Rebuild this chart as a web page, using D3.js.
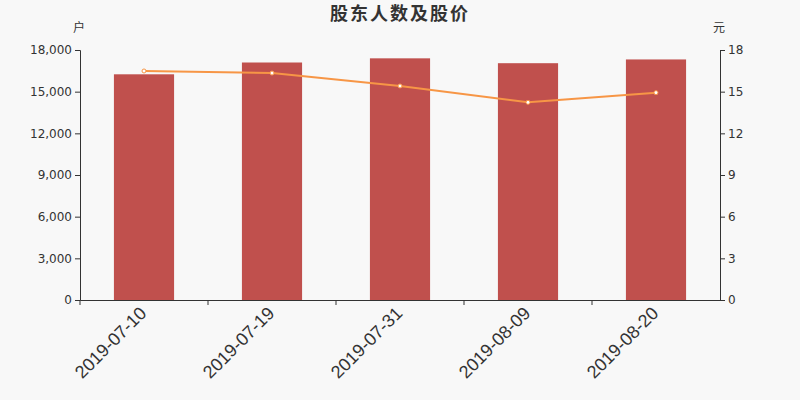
<!DOCTYPE html>
<html>
<head>
<meta charset="utf-8">
<script src="https://cdn.jsdelivr.net/npm/d3@7"></script>
<style>
  body { margin: 0; background: #f8f8f8; }
  svg { display: block; font-family: "DejaVu Sans", "Noto Sans CJK SC", sans-serif; }
</style>
</head>
<body>
<div id="chart"></div>
<script>
var dates = ["2019-07-10", "2019-07-19", "2019-07-31", "2019-08-09", "2019-08-20"];
var holders = [16250, 17100, 17400, 17050, 17320];
var prices = [16.49, 16.34, 15.41, 14.23, 14.93];
var leftTicks = [0, 3000, 6000, 9000, 12000, 15000, 18000];
var rightTicks = [0, 3, 6, 9, 12, 15, 18];

var width = 800, height = 400;
var margin = { top: 50, right: 80, bottom: 100, left: 80 };

var svg = d3.select("#chart").append("svg")
    .attr("width", width)
    .attr("height", height);

svg.append("rect").attr("width", width).attr("height", height).attr("fill", "#f8f8f8");

var x = d3.scaleBand()
    .domain(dates)
    .range([margin.left, width - margin.right])
    .paddingInner(0.53)
    .paddingOuter(0.265);

var xb = d3.scaleBand().domain(dates).range([margin.left, width - margin.right]);

var yL = d3.scaleLinear().domain([0, 18000]).range([height - margin.bottom, margin.top]);
var yR = d3.scaleLinear().domain([0, 18]).range([height - margin.bottom, margin.top]);

// bars
svg.selectAll("rect.bar")
    .data(holders)
    .enter()
    .append("rect")
    .attr("class", "bar")
    .attr("x", function (d, i) { return x(dates[i]); })
    .attr("y", function (d) { return yL(d); })
    .attr("width", x.bandwidth())
    .attr("height", function (d) { return yL(0) - yL(d); })
    .style("fill", "#c0504d");

// price line
var line = d3.line()
    .x(function (d, i) { return xb(dates[i]) + xb.bandwidth() / 2; })
    .y(function (d) { return yR(d); });

svg.append("path")
    .datum(prices)
    .attr("d", line)
    .attr("fill", "none")
    .attr("stroke", "#f79646")
    .attr("stroke-width", 2);

svg.selectAll("circle")
    .data(prices)
    .enter()
    .append("circle")
    .attr("cx", function (d, i) { return xb(dates[i]) + xb.bandwidth() / 2; })
    .attr("cy", function (d) { return yR(d); })
    .attr("r", 2)
    .style("fill", "#fff")
    .style("stroke", "#f79646")
    .style("stroke-width", 1);

// axes
var axisColor = "#333";

var gL = svg.append("g")
    .attr("transform", "translate(" + margin.left + ",0)")
    .call(d3.axisLeft(yL).tickValues(leftTicks).tickSize(5).tickFormat(d3.format(",")));

var gR = svg.append("g")
    .attr("transform", "translate(" + (width - margin.right) + ",0)")
    .call(d3.axisRight(yR).tickValues(rightTicks).tickSize(5));

var gX = svg.append("g")
    .attr("transform", "translate(0," + (height - margin.bottom) + ")")
    .call(d3.axisBottom(xb).tickSize(0).tickFormat(""));

// x ticks on band boundaries
gX.selectAll("line.bound")
    .data(dates)
    .enter()
    .append("line")
    .attr("class", "bound")
    .attr("x1", function (d) { return xb(d); })
    .attr("x2", function (d) { return xb(d); })
    .attr("y1", 0)
    .attr("y2", 5)
    .attr("stroke", axisColor);

gX.selectAll("text.lbl")
    .data(dates)
    .enter()
    .append("text")
    .attr("class", "lbl")
    .attr("transform", function (d) {
      return "translate(" + (xb(d) + xb.bandwidth() / 2 - 1) + ",10) rotate(-45)";
    })
    .attr("text-anchor", "end")
    .attr("dy", "0.35em")
    .attr("fill", axisColor)
    .style("font-size", "18px")
    .text(function (d) { return d; });

[gL, gR, gX].forEach(function (g) {
  g.selectAll(".domain").attr("stroke", axisColor);
  g.selectAll(".tick line").attr("stroke", axisColor);
  g.selectAll(".tick text").attr("fill", axisColor).style("font-size", "12px")
      .style("font-family", "DejaVu Sans, sans-serif");
});

// title and units
svg.append("text")
    .attr("x", width / 2)
    .attr("y", 20)
    .attr("text-anchor", "middle")
    .attr("fill", "#333")
    .style("font-family", "Noto Sans CJK SC, sans-serif")
    .style("font-size", "18px")
    .style("font-weight", "bold")
    .style("letter-spacing", "2px")
    .text("股东人数及股价");

svg.append("text")
    .attr("x", 79).attr("y", 32)
    .attr("text-anchor", "middle")
    .attr("fill", "#333")
    .style("font-family", "Noto Sans CJK SC, sans-serif")
    .style("font-size", "12px")
    .text("户");

svg.append("text")
    .attr("x", 719).attr("y", 32)
    .attr("text-anchor", "middle")
    .attr("fill", "#333")
    .style("font-family", "Noto Sans CJK SC, sans-serif")
    .style("font-size", "12px")
    .text("元");
</script>
</body>
</html>
